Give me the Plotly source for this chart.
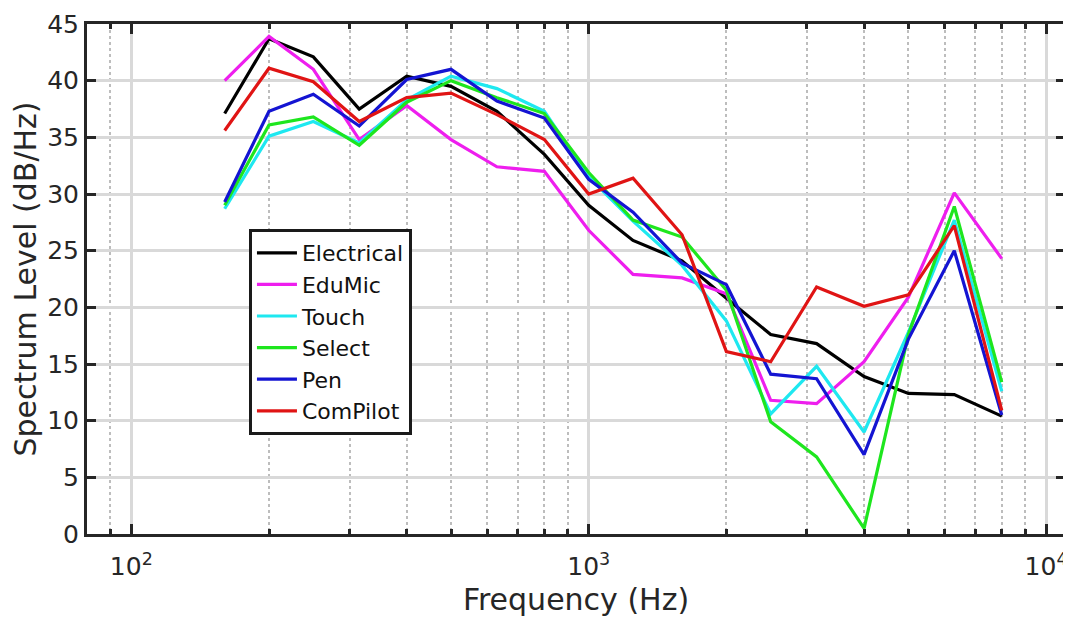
import plotly.graph_objects as go
import math

freqs = [160, 200, 250, 315, 400, 500, 630, 800, 1000, 1250, 1600, 2000, 2500, 3150, 4000, 5000, 6300, 8000]

electrical = [37.1, 43.7, 42.1, 37.5, 40.4, 39.5, 37.3, 33.5, 29.0, 25.9, 24.1, 20.8, 17.6, 16.8, 13.9, 12.4, 12.3, 10.4]
edumic = [40.0, 43.9, 41.0, 34.8, 37.8, 34.8, 32.4, 32.0, 26.8, 22.9, 22.6, 21.2, 11.8, 11.5, 15.2, 20.9, 30.1, 24.3]
touch = [28.7, 35.1, 36.4, 34.5, 38.3, 40.4, 39.3, 37.3, 31.5, 27.6, 23.7, 18.8, 10.6, 14.8, 9.0, 17.8, 27.7, 12.6]
select = [29.0, 36.1, 36.8, 34.3, 38.1, 40.0, 38.5, 37.1, 31.9, 27.7, 26.2, 21.5, 9.9, 6.8, 0.5, 17.6, 28.9, 13.4]
pen = [29.3, 37.3, 38.8, 36.0, 40.1, 41.0, 38.2, 36.7, 31.3, 28.4, 23.9, 22.0, 14.1, 13.7, 7.0, 17.2, 25.0, 10.5]
compilot = [35.6, 41.1, 39.9, 36.4, 38.5, 38.9, 37.0, 34.8, 30.0, 31.4, 26.4, 16.1, 15.2, 21.8, 20.1, 21.1, 27.2, 10.9]

series_names = ["Electrical", "EduMic", "Touch", "Select", "Pen", "ComPilot"]
series_values = [electrical, edumic, touch, select, pen, compilot]
series_colors = ["#000000", "#ee1eee", "#1ee8f0", "#1ee61e", "#1414d2", "#e01414"]

x_major = [100, 1000, 10000]
x_major_labels = ["10<sup>2</sup>", "10<sup>3</sup>", "10<sup>4</sup>"]
x_minor = [80, 90, 200, 300, 400, 500, 600, 700, 800, 900,
           2000, 3000, 4000, 5000, 6000, 7000, 8000, 9000]
y_ticks = [0, 5, 10, 15, 20, 25, 30, 35, 40, 45]

fig = go.Figure()
for name, vals, col in zip(series_names, series_values, series_colors):
    fig.add_trace(go.Scatter(x=freqs, y=vals, mode="lines", name=name,
                             line=dict(color=col, width=3.2)))

axis_col = "#262626"
font_family = "DejaVu Sans"

# page body has an 8px margin; figure sized/margined to compensate
fig.update_layout(
    width=1063, height=609,
    margin=dict(l=79, r=6, t=16, b=83, autoexpand=False),
    paper_bgcolor="white", plot_bgcolor="white",
    font=dict(family=font_family, color=axis_col, size=25),
    showlegend=True,
    legend=dict(x=0.1656, y=0.598, xanchor="left", yanchor="top",
                bgcolor="white", bordercolor="#1a1a1a", borderwidth=3,
                font=dict(family=font_family, size=22, color="#111111"),
                tracegroupgap=0, itemwidth=40),
)

fig.update_xaxes(
    type="log", range=[math.log10(80), math.log10(11000)],
    automargin=False,
    tickmode="array", tickvals=x_major, ticktext=x_major_labels,
    ticks="inside", ticklen=10, tickwidth=3, tickcolor=axis_col,
    ticklabelstandoff=8,
    showline=True, linewidth=3, linecolor=axis_col, mirror="ticks",
    showgrid=True, gridcolor="#d9d9d9", gridwidth=3,
    zeroline=False,
    tickfont=dict(size=25, family=font_family, color=axis_col),
    title=dict(text="Frequency (Hz)", font=dict(size=30, family=font_family, color=axis_col)),
    minor=dict(tickvals=x_minor, ticks="inside", ticklen=5, tickwidth=3, tickcolor=axis_col,
               showgrid=True, gridcolor="#bdbdbd", gridwidth=2, griddash="dot"),
)

fig.update_yaxes(
    range=[0, 45], tickmode="array", tickvals=y_ticks,
    automargin=False,
    ticks="inside", ticklen=9, tickwidth=3, tickcolor=axis_col,
    showline=True, linewidth=3, linecolor=axis_col, mirror="ticks",
    showgrid=True, gridcolor="#d9d9d9", gridwidth=3,
    zeroline=False,
    tickfont=dict(size=25, family=font_family, color=axis_col),
    title=dict(text="Spectrum Level (dB/Hz)", font=dict(size=30, family=font_family, color=axis_col)),
)

fig.write_html("out.html")
